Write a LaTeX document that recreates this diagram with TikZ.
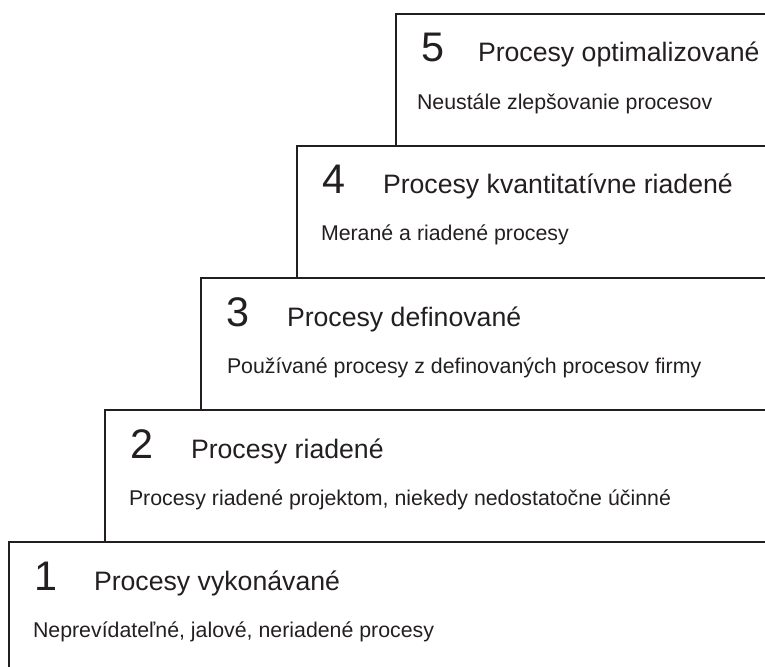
\documentclass[tikz,border=0pt]{standalone}
\usepackage{fontspec}
\setmainfont{Liberation Sans}
\definecolor{ink}{RGB}{35,31,32}

\tikzset{every picture/.style={line width=1.5pt}}
\tikzset{
  levelbox/.style={draw=ink, line width=1.5pt},
  levelnum/.style={anchor=base west, inner sep=0pt, text=ink, font=\fontsize{31}{31}\selectfont},
  leveltitle/.style={anchor=base west, inner sep=0pt, text=ink, font=\fontsize{20}{20}\selectfont},
  leveldesc/.style={anchor=base west, inner sep=0pt, text=ink, font=\fontsize{16}{16}\selectfont}
}

\begin{document}
\begin{tikzpicture}[x=0.75pt,y=0.75pt,yscale=-1,xscale=1]
\useasboundingbox (0,0) rectangle (765,667);
\clip (0,0) rectangle (765,667);

%Shape: Rectangle [level 1]
\draw [levelbox] (9,542) -- (800,542) -- (800,700) -- (9,700) -- cycle ;
%Shape: Rectangle [level 2]
\draw [levelbox] (105,410) -- (800,410) -- (800,542) -- (105,542) -- cycle ;
%Shape: Rectangle [level 3]
\draw [levelbox] (201,278) -- (800,278) -- (800,410) -- (201,410) -- cycle ;
%Shape: Rectangle [level 4]
\draw [levelbox] (297,146) -- (800,146) -- (800,278) -- (297,278) -- cycle ;
%Shape: Rectangle [level 5]
\draw [levelbox] (396,14) -- (800,14) -- (800,146) -- (396,146) -- cycle ;

% Text Node
\node [levelnum] (n1) at (33,590) {1};
% Text Node
\node [leveltitle] (t1) at (93,590) {Procesy vykonávané};
% Text Node
\node [leveldesc] (d1) at (32,637) {Neprevídateľné, jalové, neriadené procesy};

% Text Node
\node [levelnum] (n2) at (129,458) {2};
% Text Node
\node [leveltitle] (t2) at (190,458) {Procesy riadené};
% Text Node
\node [leveldesc] (d2) at (128,505) {Procesy riadené projektom, niekedy nedostatočne účinné};

% Text Node
\node [levelnum] (n3) at (225,326) {3};
% Text Node
\node [leveltitle] (t3) at (286,326) {Procesy definované};
% Text Node
\node [leveldesc] (d3) at (226,373) {Používané procesy z definovaných procesov firmy};

% Text Node
\node [levelnum] (n4) at (321,194) {4};
% Text Node
\node [leveltitle] (t4) at (382,194) {Procesy kvantitatívne riadené};
% Text Node
\node [leveldesc] (d4) at (320,240) {Merané a riadené procesy};

% Text Node
\node [levelnum] (n5) at (420,62) {5};
% Text Node
\node [leveltitle] (t5) at (477,62) {Procesy optimalizované};
% Text Node
\node [leveldesc] (d5) at (416,110) {Neustále zlepšovanie procesov};

\end{tikzpicture}
\end{document}
